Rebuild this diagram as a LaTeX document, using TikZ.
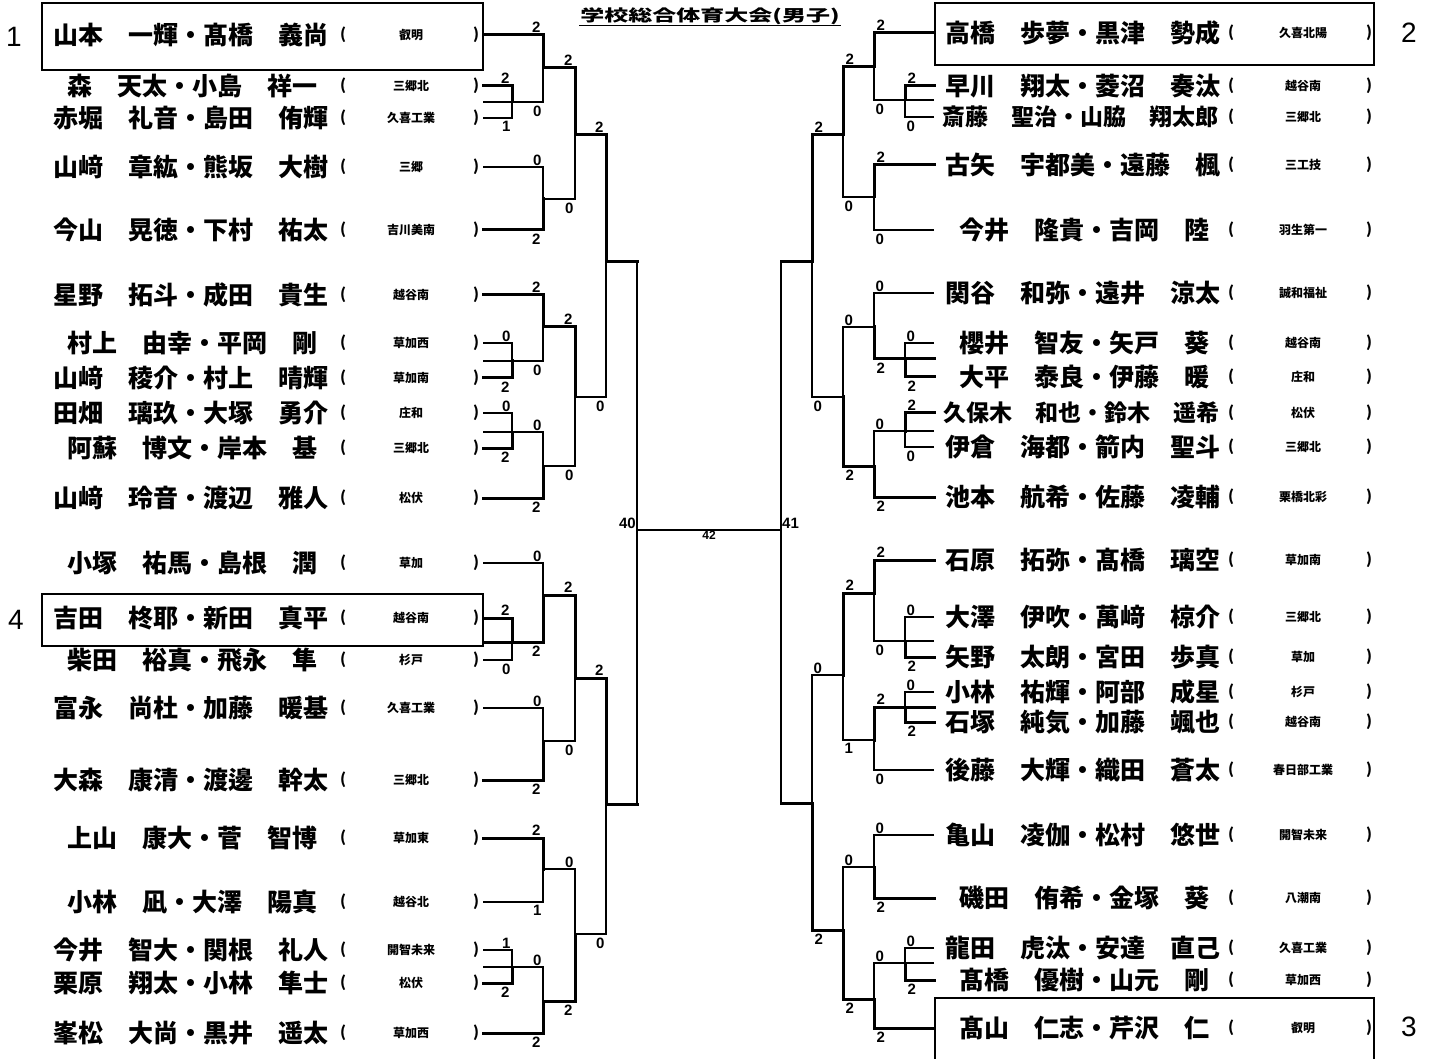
\documentclass[tikz,border=0pt]{standalone}
\usepackage{fontspec}
\setmainfont{Liberation Sans}
\newfontfamily\jp{Noto Sans CJK JP}

\begin{document}
\begin{tikzpicture}[x=1pt,y=-1pt,
    win/.style={line width=3pt,line cap=rect},
    lose/.style={line width=1.2pt},
    box/.style={line width=2pt},
    namel/.style={anchor=west,inner sep=0pt,font=\jp\bfseries\fontsize{25}{25}\selectfont},
    school/.style={inner sep=0pt,font=\jp\bfseries\fontsize{12}{12}\selectfont},
    paren/.style={inner sep=0pt,font=\jp\bfseries\fontsize{15}{15}\selectfont},
    lsc/.style={inner sep=1pt,font=\bfseries\fontsize{15}{15}\selectfont},
    seed/.style={inner sep=0pt,font=\fontsize{28}{28}\selectfont}]

  \useasboundingbox (0,0) rectangle (1436,1059);

  % title
  \node[inner sep=1pt,font=\jp\bfseries\fontsize{16}{16}\selectfont] (title) at (710,16)
    {\scalebox{1.5}[1]{学校総合体育大会(男子)}};
  \draw[line width=1.2pt] (title.south west) -- (title.south east);

  % left teams
  \foreach \i/\y/\x/\nm/\sc in {
      1/35/53/山本　一輝・髙橋　義尚/叡明,
      2/86/67/森　天太・小島　祥一/三郷北,
      3/118/53/赤堀　礼音・島田　侑輝/久喜工業,
      4/167/53/山﨑　章紘・熊坂　大樹/三郷,
      5/230/53/今山　晃徳・下村　祐太/吉川美南,
      6/295/53/星野　拓斗・成田　貴生/越谷南,
      7/343/67/村上　由幸・平岡　剛/草加西,
      8/378/53/山﨑　稜介・村上　晴輝/草加南,
      9/413/53/田畑　璃玖・大塚　勇介/庄和,
      10/448/67/阿蘇　博文・岸本　基/三郷北,
      11/498/53/山﨑　玲音・渡辺　雅人/松伏,
      12/563/67/小塚　祐馬・島根　潤/草加,
      13/618/53/吉田　柊耶・新田　真平/越谷南,
      14/660/67/柴田　裕真・飛永　隼/杉戸,
      15/708/53/富永　尚杜・加藤　暖基/久喜工業,
      16/780/53/大森　康清・渡邊　幹太/三郷北,
      17/838/67/上山　康大・菅　智博/草加東,
      18/902/67/小林　凪・大澤　陽真/越谷北,
      19/950/53/今井　智大・関根　礼人/開智未来,
      20/983/53/栗原　翔太・小林　隼士/松伏,
      21/1033/53/峯松　大尚・黒井　遥太/草加西}{
    \node[namel] (nl\i) at (\x,\y) {\nm};
    \node[paren] (ol\i) at (343,\y) {(};
    \node[school] (sl\i) at (411,\y) {\sc};
    \node[paren] (cl\i) at (476,\y) {)};
    \coordinate (a\i) at (483,\y);
  }

  % right teams
  \foreach \i/\y/\x/\nm/\sc in {
      1/33/945/高橋　歩夢・黒津　勢成/久喜北陽,
      2/86/945/早川　翔太・菱沼　奏汰/越谷南,
      3/117/942/{\fontsize{23}{23}\selectfont 斎藤　聖治・山脇　翔太郎}/三郷北,
      4/165/945/古矢　宇都美・遠藤　楓/三工技,
      5/230/959/今井　隆貴・吉岡　陸/羽生第一,
      6/293/945/関谷　和弥・遠井　涼太/誠和福祉,
      7/343/959/櫻井　智友・矢戸　葵/越谷南,
      8/377/959/大平　泰良・伊藤　暖/庄和,
      9/413/943/{\fontsize{23}{23}\selectfont 久保木　和也・鈴木　遥希}/松伏,
      10/447/945/伊倉　海都・箭内　聖斗/三郷北,
      11/497/945/池本　航希・佐藤　凌輔/栗橋北彩,
      12/560/945/石原　拓弥・髙橋　璃空/草加南,
      13/617/945/大澤　伊吹・萬﨑　椋介/三郷北,
      14/657/945/矢野　太朗・宮田　歩真/草加,
      15/692/945/小林　祐輝・阿部　成星/杉戸,
      16/722/945/石塚　純気・加藤　颯也/越谷南,
      17/770/945/後藤　大輝・織田　蒼太/春日部工業,
      18/835/945/亀山　凌伽・松村　悠世/開智未来,
      19/898/959/磯田　侑希・金塚　葵/八潮南,
      20/948/945/龍田　虎汰・安達　直己/久喜工業,
      21/980/959/髙橋　優樹・山元　剛/草加西,
      22/1028/959/髙山　仁志・芹沢　仁/叡明}{
    \node[namel] (nr\i) at (\x,\y) {\nm};
    \node[paren] (or\i) at (1231,\y) {(};
    \node[school] (sr\i) at (1303,\y) {\sc};
    \node[paren] (cr\i) at (1369,\y) {)};
    \coordinate (b\i) at (934,\y);
  }

  % seeded boxes
  \draw[box] (42,3) rectangle (483,70);
  \draw[box] (42,594) rectangle (483,646);
  \draw[box] (935,3) rectangle (1374,65);
  \draw[box] (935,1059) |- (1374,998) -- (1374,1059);
  \node[seed] (seed1) at (14,37) {1};
  \node[seed] (seed4) at (16,620) {4};
  \node[seed] (seed2) at (1409,33) {2};
  \node[seed] (seed3) at (1409,1027) {3};

  % bracket points
  \foreach \n/\x/\y in {lm1/512/102, lm2/543/68, lm3/543/199, lm4/575/135,
      lm5/512/361, lm6/543/327, lm7/512/432, lm8/543/466, lm9/575/397,
      lm10/606/262, lm11/512/642, lm12/543/595, lm13/543/741, lm14/575/678,
      lm15/543/869, lm16/512/967, lm17/543/1001, lm18/575/934, lm19/606/804,
      lm20/637/530, ls1/483/102, ls5/483/361, ls7/483/432, ls11/483/642,
      ls16/483/967,
      rm1/905/100, rm2/874/67, rm3/874/197, rm4/843/135, rm5/905/359,
      rm6/874/327, rm7/905/431, rm8/874/466, rm9/843/397, rm10/812/262,
      rm11/905/641, rm12/874/593, rm13/905/707, rm14/874/740, rm15/843/675,
      rm16/874/867, rm17/905/963, rm18/874/999, rm19/843/930, rm20/812/803,
      rm21/781/530, rs1/934/100, rs5/934/359, rs7/934/431, rs11/934/641,
      rs13/934/707, rs17/934/963}
    \coordinate (\n) at (\x,\y);

  % left matches
  \foreach \u/\d/\m/\su/\sd/\ku/\kd in {
      a2/a3/lm1/2/1/win/lose, a1/ls1/lm2/2/0/win/lose,
      a4/a5/lm3/0/2/lose/win, lm2/lm3/lm4/2/0/win/lose,
      a7/a8/lm5/0/2/lose/win, a6/ls5/lm6/2/0/win/lose,
      a9/a10/lm7/0/2/lose/win, ls7/a11/lm8/0/2/lose/win,
      lm6/lm8/lm9/2/0/win/lose, lm4/lm9/lm10/2/0/win/lose,
      a13/a14/lm11/2/0/win/lose, a12/ls11/lm12/0/2/lose/win,
      a15/a16/lm13/0/2/lose/win, lm12/lm13/lm14/2/0/win/lose,
      a17/a18/lm15/2/1/win/lose, a19/a20/lm16/1/2/lose/win,
      ls16/a21/lm17/0/2/lose/win, lm15/lm17/lm18/0/2/lose/win,
      lm14/lm18/lm19/2/0/win/lose}{
    \draw[\ku] (\u) -| node[lsc,above left] {\su} (\m);
    \draw[\kd] (\d) -| node[lsc,below left,yshift=-2pt] {\sd} (\m);
  }

  % right matches
  \foreach \u/\d/\m/\su/\sd/\ku/\kd in {
      b2/b3/rm1/2/0/win/lose, b1/rs1/rm2/2/0/win/lose,
      b4/b5/rm3/2/0/win/lose, rm2/rm3/rm4/2/0/win/lose,
      b7/b8/rm5/0/2/lose/win, b6/rs5/rm6/0/2/lose/win,
      b9/b10/rm7/2/0/win/lose, rs7/b11/rm8/0/2/lose/win,
      rm6/rm8/rm9/0/2/lose/win, rm4/rm9/rm10/2/0/win/lose,
      b13/b14/rm11/0/2/lose/win, b12/rs11/rm12/2/0/win/lose,
      b15/b16/rm13/0/2/lose/win, rs13/b17/rm14/2/0/win/lose,
      rm12/rm14/rm15/2/1/win/lose, b18/b19/rm16/0/2/lose/win,
      b20/b21/rm17/0/2/lose/win, rs17/b22/rm18/0/2/lose/win,
      rm16/rm18/rm19/0/2/lose/win, rm15/rm19/rm20/0/2/lose/win}{
    \draw[\ku] (\u) -| node[lsc,above right] {\su} (\m);
    \draw[\kd] (\d) -| node[lsc,below right,yshift=-2pt] {\sd} (\m);
  }

  % semifinals and final
  \draw[win] (lm10) -- (lm10 -| lm20);
  \draw[win] (lm19) -- (lm19 -| lm20);
  \draw[lose] (lm10 -| lm20) -- (lm19 -| lm20);
  \draw[win] (rm10) -- (rm10 -| rm21);
  \draw[win] (rm20) -- (rm20 -| rm21);
  \draw[lose] (rm10 -| rm21) -- (rm20 -| rm21);
  \node[lsc,above left] (m40) at (lm20) {40};
  \node[lsc,above right] (m41) at (rm21) {41};
  \draw[lose] (lm20) -- node[lsc,below,font=\bfseries\fontsize{12}{12}\selectfont] (m42) {42} (rm21);
\end{tikzpicture}
\end{document}
